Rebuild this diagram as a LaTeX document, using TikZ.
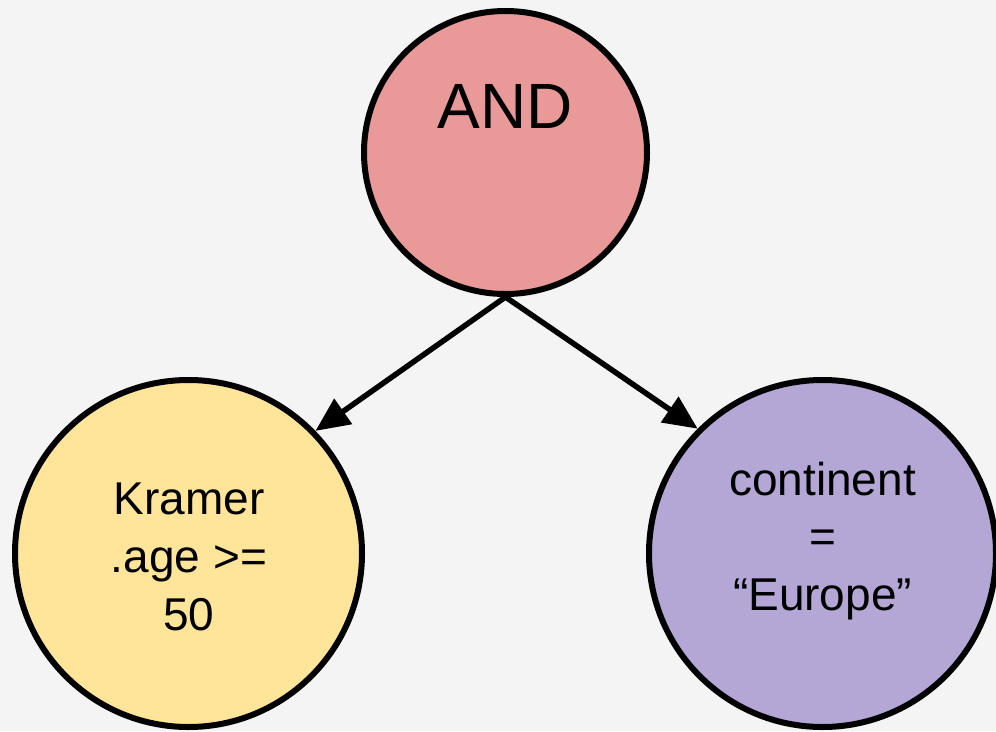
\documentclass[tikz,border=0pt]{standalone}
\usepackage{fontspec}
\setmainfont{Liberation Sans}
\usetikzlibrary{arrows.meta}
\definecolor{bgcol}{HTML}{F4F4F4}
\definecolor{andfill}{HTML}{EA9999}
\definecolor{agefill}{HTML}{FFE599}
\definecolor{contfill}{HTML}{B4A7D6}
\tikzset{
  opnode/.style={circle, draw=black, line width=6pt, inner sep=0pt},
  txt/.style={anchor=base, inner sep=0pt, font=\fontsize{46}{57}\selectfont},
  edge/.style={line width=5.5pt, -{Triangle[length=34pt,width=30pt]}}
}
\begin{document}
\begin{tikzpicture}[x=1pt, y=-1pt]
  % canvas
  \fill[bgcol] (0,0) rectangle (996,731);
  \useasboundingbox (0,0) rectangle (996,731);

  % operator and its two conditions
  \node[opnode, fill=andfill, minimum size=283pt] (andop) at (505.5,152.5) {};
  \node[opnode, fill=agefill, minimum size=347pt] (agecond) at (188.5,553.5) {};
  \node[opnode, fill=contfill, minimum size=347pt] (contcond) at (822.5,553.5) {};

  % labels
  \node[txt, font=\fontsize{64}{70}\selectfont] (andtxt) at (505,128) {AND};

  \node[txt] (age1) at (189,514) {Kramer};
  \node[txt] (age2) at (189,572) {.age >=};
  \node[txt] (age3) at (189,630) {50};

  \node[txt] (cont1) at (822.5,495) {continent};
  \node[txt] (cont2) at (822.5,552.5) {=};
  \node[txt] (cont3) at (822.5,610) {“Europe”};

  % edges
  \draw[edge] (andop.south) -- (agecond.44.3);
  \draw[edge] (andop.south) -- (contcond.135.6);
\end{tikzpicture}
\end{document}
